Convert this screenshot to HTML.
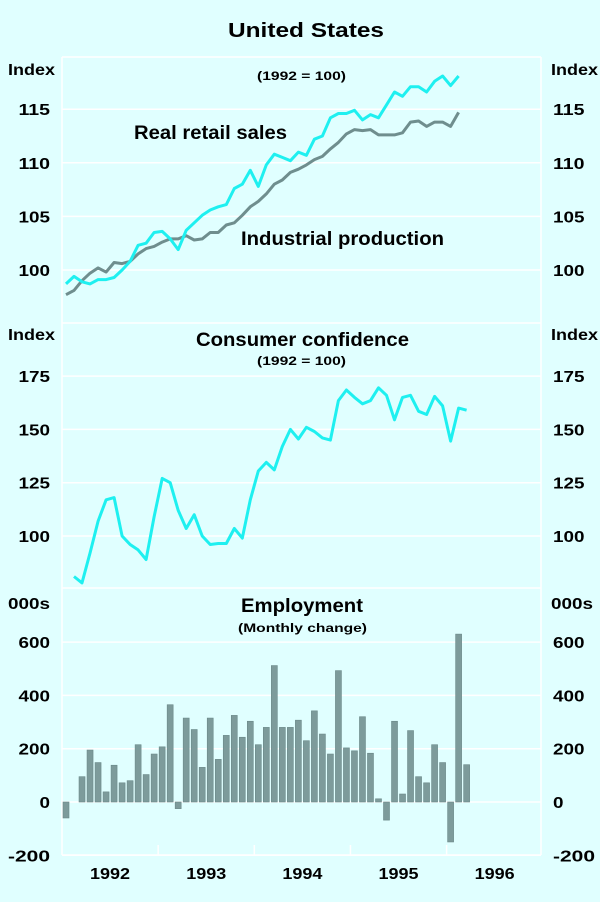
<!DOCTYPE html>
<html><head><meta charset="utf-8"><style>
body{margin:0;background:#e0ffff;}
svg{display:block;font-family:"Liberation Sans",Arial,sans-serif;font-weight:bold;}
</style></head><body>
<svg id="c" width="600" height="902" viewBox="0 0 600 902">
<rect width="600" height="902" fill="#e0ffff"/>
<text x="228" y="37" font-size="20" textLength="156" lengthAdjust="spacingAndGlyphs">United States</text>
<g id="frame" stroke="#ffffff" stroke-width="1.5" fill="none"></g>
<g id="grid" stroke="#ffffff" stroke-width="1.5"></g>
<g id="marks"></g>
<g id="labels" font-size="15"></g>
<text x="257" y="80" font-size="12" textLength="89" lengthAdjust="spacingAndGlyphs">(1992 = 100)</text>
<text x="134" y="139" font-size="19" textLength="153" lengthAdjust="spacingAndGlyphs">Real retail sales</text>
<text x="241" y="245" font-size="19" textLength="203" lengthAdjust="spacingAndGlyphs">Industrial production</text>
<text x="196" y="346" font-size="19" textLength="213" lengthAdjust="spacingAndGlyphs">Consumer confidence</text>
<text x="257" y="365" font-size="12" textLength="89" lengthAdjust="spacingAndGlyphs">(1992 = 100)</text>
<text x="241" y="612" font-size="19" textLength="122" lengthAdjust="spacingAndGlyphs">Employment</text>
<text x="238" y="632" font-size="12" textLength="129" lengthAdjust="spacingAndGlyphs">(Monthly change)</text>
</svg>
<script>
const years = ["1992","1993","1994","1995","1996"];
const retail = [98.7,99.4,98.9,98.7,99.1,99.1,99.3,100.0,100.8,102.3,102.5,103.5,103.6,102.9,101.9,103.7,104.4,105.1,105.6,105.9,106.1,107.6,108.0,109.3,107.8,109.8,110.8,110.5,110.2,111.0,110.7,112.2,112.5,114.2,114.6,114.6,114.9,114.0,114.5,114.2,115.4,116.6,116.2,117.1,117.1,116.6,117.6,118.1,117.2,118.1];
const industrial = [97.7,98.1,99.0,99.7,100.2,99.8,100.7,100.6,100.8,101.5,102.0,102.2,102.6,102.9,102.9,103.2,102.8,102.9,103.5,103.5,104.2,104.4,105.1,105.9,106.4,107.1,108.0,108.4,109.1,109.4,109.8,110.3,110.6,111.3,111.9,112.7,113.1,113.0,113.1,112.6,112.6,112.6,112.8,113.8,113.9,113.4,113.8,113.8,113.4,114.7];
const confidence = [81,78,92,107,117,118,100,96,93.5,89,109,127,125,112,103.5,110,100,96,96.5,96.5,103.5,99,117,130.5,134.5,131,142,150,145.5,151,149,146,145,163.5,168.5,165,162,163.5,169.5,166,154.5,165,166,158.5,157,165.5,161,144.5,160,159];
const employment = [-60,0,95,195,148,38,138,72,80,215,103,180,207,365,-25,315,272,130,315,160,250,325,243,303,215,280,512,280,280,307,230,342,255,180,493,203,192,320,183,12,-68,303,30,268,95,72,215,148,-150,630,140];
const topTicks = [100,105,110,115];
const midTicks = [100,125,150,175];
const botTicks = [-200,0,200,400,600];

const NS="http://www.w3.org/2000/svg";
const X0=62, X1=541, monthW=(446.6-62)/48;
function xm(m){return X0+monthW*(m+0.5);}
function yTop(v){return 270-(v-100)*10.72;}
function yMid(v){return 536-(v-100)*53.3/25;}
function yBot(v){return 802-v*53.3/200;}
function mk(parent,tag,attrs){const e=document.createElementNS(NS,tag);for(const k in attrs)e.setAttribute(k,attrs[k]);document.getElementById(parent).appendChild(e);return e;}

let f=mk('frame','line',{x1:X0,y1:57,x2:X0,y2:855});


f=mk('frame','line',{x1:X1,y1:57,x2:X1,y2:855});


f=mk('frame','line',{x1:X0,y1:57,x2:X1,y2:57});


f=mk('frame','line',{x1:X0,y1:323,x2:X1,y2:323});


f=mk('frame','line',{x1:X0,y1:588,x2:X1,y2:588});


f=mk('frame','line',{x1:X0,y1:855,x2:X1,y2:855});


for(let i=1;i<years.length;i++){const x=X0+monthW*12*i;
 const t=mk('frame','line',{x1:x,y1:855,x2:x,y2:845});
 
 }

function ticks(arr,fy,name){arr.forEach(v=>{const y=fy(v);
 const g=mk('grid','line',{x1:X0,y1:y,x2:X1,y2:y});
 
 
 const w=String(v).length*10.5;
 let t=mk('labels','text',{x:50-w,y:y+6,'font-size':16,textLength:w,lengthAdjust:'spacingAndGlyphs'});t.textContent=v;
 
 
 t=mk('labels','text',{x:553,y:y+6,'font-size':16,textLength:w,lengthAdjust:'spacingAndGlyphs'});t.textContent=v;
 
 });}
ticks(topTicks,yTop,'top');ticks(midTicks,yMid,'middle');ticks(botTicks,yBot,'bottom');
[["Index",8,75,47],["Index",551,75,47],["Index",8,340,47],["Index",551,340,47],["000s",8,609,42],["000s",551,609,42]].forEach(a=>{
 const t=mk('labels','text',{x:a[1],y:a[2],'font-size':16,textLength:a[3],lengthAdjust:'spacingAndGlyphs'});t.textContent=a[0];
 
 });
years.forEach((yr,i)=>{const t=mk('labels','text',{x:X0+monthW*(12*i+6)-20,y:879,'font-size':16,textLength:40,lengthAdjust:'spacingAndGlyphs'});t.textContent=yr;
 
 });

employment.forEach((v,i)=>{if(v===0)return;const y0=yBot(0),y1=yBot(v);
 const b=mk('marks','rect',{x:xm(i)-3,y:Math.min(y0,y1),width:6,height:Math.abs(y1-y0),fill:'#7d9b9b',stroke:'#6a8888','stroke-width':0.6});
 
 });
function line(arr,off,fy,col,name){const p=arr.map((v,i)=>xm(i+off).toFixed(1)+','+fy(v).toFixed(1)).join(' ');
 const l=mk('marks','polyline',{points:p,fill:'none',stroke:col,'stroke-width':3,'stroke-linejoin':'round'});
 
 }
line(industrial,0,yTop,'#6f8e8e','industrial-production-line');
line(retail,0,yTop,'#1ef0f0','retail-sales-line');
line(confidence,1,yMid,'#1ef0f0','consumer-confidence-line');
</script>
</body></html>
